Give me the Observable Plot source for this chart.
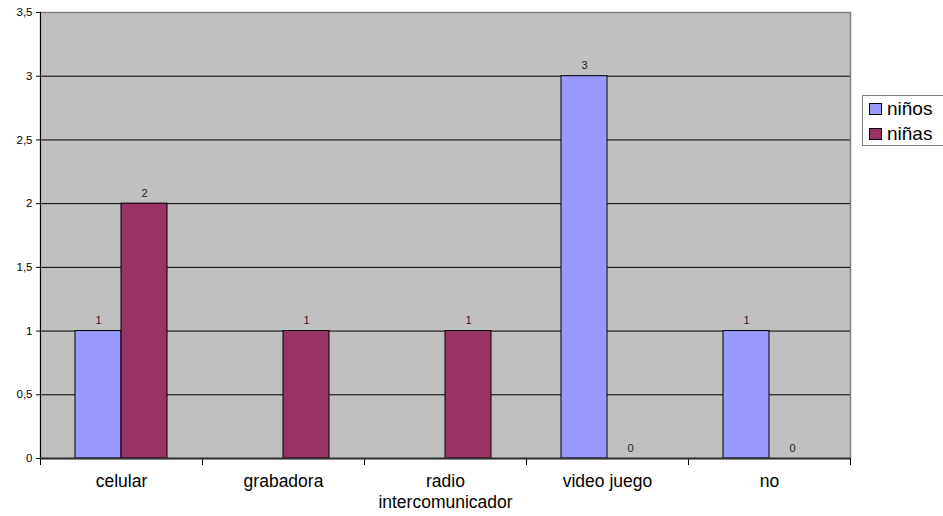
<!DOCTYPE html>
<html>
<head>
<meta charset="utf-8">
<script src="https://cdn.jsdelivr.net/npm/d3@7"></script>
<script src="https://cdn.jsdelivr.net/npm/@observablehq/plot@0.6"></script>
<style>
  html, body { margin: 0; padding: 0; background: #fff; overflow: hidden; }
  #wrap { position: relative; width: 943px; height: 516px; font-family: "Liberation Sans", Arial, sans-serif; }
  #legend { position: absolute; left: 862px; top: 95px; width: 100px; height: 51px; border: 1px solid #808080; background: #fff; padding: 0 0 0 6px; box-sizing: border-box; }
  #legend .item { display: flex; align-items: center; height: 25px; font-size: 19px; color: #000; }
  #legend .sw { width: 11px; height: 10px; border: 1px solid #000; margin-right: 5px; }
</style>
</head>
<body>
<div id="wrap"></div>
<script>
// Categories, series and values
const categories = ["celular", "grabadora", "radio intercomunicador", "video juego", "no"];
const categoryLabels = ["celular", "grabadora", "radio\nintercomunicador", "video juego", "no"];
const series = ["niños", "niñas"];
const ninos = [1, null, null, 3, 1];
const ninas = [2, 1, 1, 0, 0];
const seriesColors = ["#9999ff", "#993366"];
const yTicks = [0, 0.5, 1, 1.5, 2, 2.5, 3, 3.5];

const W = 943, H = 516;
const margin = {top: 12, right: 91, bottom: 58, left: 38};
const innerH = H - margin.top - margin.bottom;

const values = {"niños": ninos, "niñas": ninas};
const data = categories.flatMap((c, i) =>
  series.map(s => ({category: c, series: s, value: values[s][i]}))
).filter(d => d.value != null);

const labelOf = new Map(categories.map((c, i) => [c, categoryLabels[i]]));
const fmt = d => String(d).replace(".", ",");

const chart = Plot.plot({
  width: W,
  height: H,
  marginTop: margin.top,
  marginRight: margin.right,
  marginBottom: margin.bottom,
  marginLeft: margin.left,
  style: {fontFamily: "'Liberation Sans', Arial, sans-serif", background: "#fff"},
  fx: {domain: categories, padding: 0, label: null},
  x: {domain: series, paddingInner: 0, paddingOuter: 0.75, axis: null},
  y: {domain: [0, 3.5], label: null},
  color: {domain: series, range: seriesColors},
  marks: [
    // plot area background, drawn once across all categories
    Plot.frame({facet: "super", fill: "#c0c0c0"}),
    Plot.gridY(yTicks.filter(t => t > 0 && t < 3.5), {stroke: "#000", strokeOpacity: 1}),
    Plot.frame({facet: "super", stroke: "#808080", strokeWidth: 1.5}),
    Plot.frame({facet: "super", anchor: "left", stroke: "#000"}),
    // category boundary ticks under the baseline
    Plot.frame({anchor: "left", stroke: "#000", insetTop: innerH, insetBottom: -6}),
    Plot.frame({anchor: "right", stroke: "#000", insetTop: innerH, insetBottom: -6}),
    Plot.barY(data, {fx: "category", x: "series", y: "value", fill: "series", stroke: "#000", strokeWidth: 1}),
    Plot.ruleY([0], {stroke: "#333", strokeWidth: 2}),
    Plot.text(data, {fx: "category", x: "series", y: "value", text: d => fmt(d.value), lineAnchor: "bottom", dy: -7, fontSize: 11, fill: "#222"}),
    Plot.axisY(yTicks, {tickSize: 4, tickPadding: 4, tickFormat: fmt, fontSize: 11.5, fill: "#000", label: null}),
    Plot.axisFx({anchor: "bottom", tickSize: 0, tickPadding: 14, fontSize: 17.5, lineHeight: 1.17, fill: "#000", tickFormat: c => labelOf.get(c), label: null})
  ]
});

const wrap = document.getElementById("wrap");
wrap.appendChild(chart);

// Legend
const legend = document.createElement("div");
legend.id = "legend";
series.forEach((s, i) => {
  const item = document.createElement("div");
  item.className = "item";
  const sw = document.createElement("span");
  sw.className = "sw";
  sw.style.background = seriesColors[i];
  const lab = document.createElement("span");
  lab.textContent = s;
  item.appendChild(sw);
  item.appendChild(lab);
  legend.appendChild(item);
});
wrap.appendChild(legend);
</script>
</body>
</html>
